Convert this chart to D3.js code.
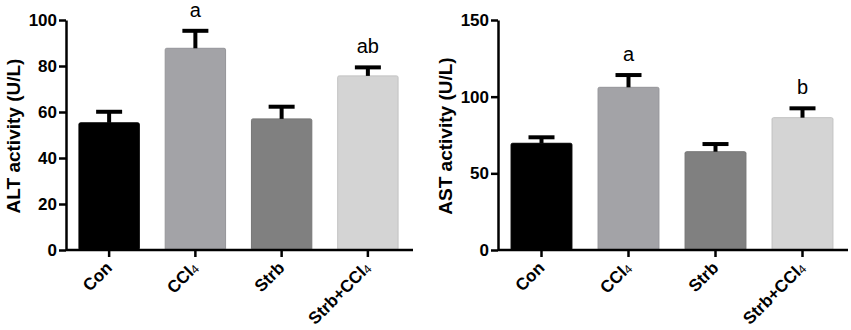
<!DOCTYPE html>
<html>
<head>
<meta charset="utf-8">
<script src="https://cdn.jsdelivr.net/npm/d3@7"></script>
<style>
  body { margin: 0; background: #fff; }
  svg { font-family: Arial, "Liberation Sans", sans-serif; }
</style>
</head>
<body>
<svg id="chart" width="851" height="330"></svg>
<script>
// groups on the x axis
const categories = ["Con", "CCl4", "Strb", "Strb+CCl4"];
const barColors = ["#000000", "#a3a3a7", "#808080", "#d4d4d4"];

// ALT panel (mean and upper error)
const altMeans = [55.3, 87.7, 57.0, 75.7];
const altErrors = [4.8, 7.6, 5.3, 3.7];
const altLetters = ["", "a", "", "ab"];
const altTicks = [0, 20, 40, 60, 80, 100];

// AST panel
const astMeans = [69.6, 106.1, 64.1, 86.3];
const astErrors = [3.9, 8.0, 5.0, 6.1];
const astLetters = ["", "a", "", "b"];
const astTicks = [0, 50, 100, 150];

const svg = d3.select("#chart");

function drawPanel(opts) {
    const g = svg.append("g");

    const x = d3.scaleBand()
        .domain(categories)
        .range([opts.left, opts.right])
        .paddingInner(0.3)
        .paddingOuter(0.15);

    const y = d3.scaleLinear()
        .domain([0, opts.max])
        .range([250, 20]);

    const rows = categories.map((c, i) => ({
        cat: c, mean: opts.means[i], err: opts.errors[i], letter: opts.letters[i], color: barColors[i]
    }));

    // bars
    g.selectAll("rect.bar")
        .data(rows)
        .enter().append("rect")
        .attr("class", "bar")
        .attr("x", d => x(d.cat))
        .attr("y", d => y(d.mean))
        .attr("width", x.bandwidth())
        .attr("height", d => y(0) - y(d.mean))
        .attr("rx", 1.5)
        .attr("fill", d => d.color)
        .attr("stroke", d => d3.color(d.color).darker(0.25))
        .attr("stroke-width", 1);

    // error bars (upper only)
    const cap = 13;
    g.selectAll("line.err")
        .data(rows)
        .enter().append("line")
        .attr("x1", d => x(d.cat) + x.bandwidth() / 2)
        .attr("x2", d => x(d.cat) + x.bandwidth() / 2)
        .attr("y1", d => y(d.mean))
        .attr("y2", d => y(d.mean + d.err))
        .attr("stroke", "#000")
        .attr("stroke-width", 4);

    g.selectAll("line.cap")
        .data(rows)
        .enter().append("line")
        .attr("x1", d => x(d.cat) + x.bandwidth() / 2 - cap)
        .attr("x2", d => x(d.cat) + x.bandwidth() / 2 + cap)
        .attr("y1", d => y(d.mean + d.err))
        .attr("y2", d => y(d.mean + d.err))
        .attr("stroke", "#000")
        .attr("stroke-width", 4);

    // significance letters
    g.selectAll("text.sig")
        .data(rows.filter(d => d.letter))
        .enter().append("text")
        .attr("x", d => x(d.cat) + x.bandwidth() / 2)
        .attr("y", d => y(d.mean + d.err) - 14)
        .attr("text-anchor", "middle")
        .style("font-size", "20px")
        .text(d => d.letter);

    // y axis
    const yAxis = g.append("g")
        .attr("transform", `translate(${opts.left},0)`)
        .call(d3.axisLeft(y).tickValues(opts.ticks).tickSize(7).tickSizeOuter(0).tickPadding(2));
    yAxis.select(".domain").attr("stroke-width", 2.5);
    yAxis.selectAll(".tick line").attr("stroke-width", 2.5);
    yAxis.selectAll(".tick text")
        .style("font-size", "17px")
        .style("font-weight", "bold")
        .attr("fill", "#000")
        .attr("font-family", null);

    // x axis
    const xAxis = g.append("g")
        .attr("transform", "translate(0,250)")
        .call(d3.axisBottom(x).tickSize(7).tickSizeOuter(0).tickFormat(""));
    xAxis.select(".domain")
        .attr("d", `M${opts.left},0H${opts.right + 2}`)
        .attr("stroke-width", 2.5);
    xAxis.selectAll(".tick line").attr("stroke-width", 2.5);

    // rotated category labels, the 4 of CCl4 smaller
    const labels = g.selectAll("text.cat")
        .data(categories)
        .enter().append("text")
        .attr("text-anchor", "end")
        .attr("transform", c => `translate(${x(c) + x.bandwidth() / 2 + 4},269) rotate(-45)`)
        .style("font-size", "17px")
        .style("font-weight", "bold");
    labels.each(function (c) {
        const t = d3.select(this);
        if (c.endsWith("4")) {
            t.append("tspan").text(c.slice(0, -1));
            t.append("tspan")
                .style("font-size", "12px")
                .style("font-weight", "normal")
                .attr("dy", 1)
                .text("4");
        } else {
            t.text(c);
        }
    });

    // y axis title
    g.append("text")
        .attr("transform", `translate(${opts.titleX},136) rotate(-90)`)
        .attr("text-anchor", "middle")
        .style("font-size", "19px")
        .style("font-weight", "bold")
        .text(opts.title);
}

drawPanel({
    left: 66, right: 411, max: 100,
    means: altMeans, errors: altErrors, letters: altLetters, ticks: altTicks,
    title: "ALT activity (U/L)", titleX: 20
});

drawPanel({
    left: 498, right: 846, max: 150,
    means: astMeans, errors: astErrors, letters: astLetters, ticks: astTicks,
    title: "AST activity (U/L)", titleX: 452
});
</script>
</body>
</html>
